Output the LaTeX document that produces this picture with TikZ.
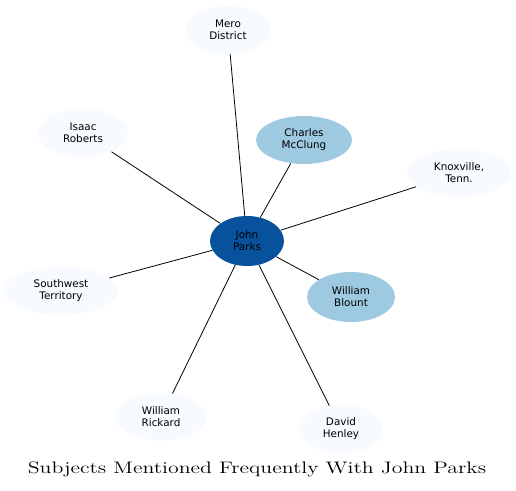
\documentclass[tikz,border=0pt]{standalone}
\usepackage{fontspec}
\newfontfamily\nodefont{DejaVu Sans}
\usetikzlibrary{shapes.geometric}
\definecolor{pale}{HTML}{F7FBFF}
\definecolor{mid}{HTML}{9ECAE1}
\definecolor{dark}{HTML}{08519C}
\begin{document}
\begin{tikzpicture}[x=0.75pt,y=-0.75pt,
  ent/.style={ellipse,inner sep=0pt,fill=pale,font=\nodefont\fontsize{7.8}{9}\selectfont,align=center},
  hot/.style={ent,fill=mid},
  center/.style={ent,fill=dark},
  link/.style={draw=black,line width=0.6pt}]
\useasboundingbox (0,0) rectangle (516,491);
\node[ent,minimum width=86*0.75pt,minimum height=48*0.75pt] (mero) at (228,30) {Mero\\District};
\node[ent,minimum width=90*0.75pt,minimum height=48*0.75pt] (isaac) at (83,133) {Isaac\\Roberts};
\node[hot,minimum width=96*0.75pt,minimum height=48*0.75pt] (charles) at (304,140) {Charles\\McClung};
\node[ent,minimum width=104*0.75pt,minimum height=48*0.75pt] (knox) at (459,173) {Knoxville,\\Tenn.};
\node[center,minimum width=74*0.75pt,minimum height=50*0.75pt] (john) at (247,241) {John\\Parks};
\node[ent,minimum width=114*0.75pt,minimum height=48*0.75pt] (sw) at (61,291) {Southwest\\Territory};
\node[hot,minimum width=88*0.75pt,minimum height=50*0.75pt] (blount) at (351,297) {William\\Blount};
\node[ent,minimum width=90*0.75pt,minimum height=48*0.75pt] (rickard) at (161,417) {William\\Rickard};
\node[ent,minimum width=84*0.75pt,minimum height=48*0.75pt] (henley) at (341,429) {David\\Henley};
\foreach \t in {mero,isaac,charles,knox,sw,blount,rickard,henley}
  \draw[link] (john) -- (\t);
\node (title) at (257,469) {\scalebox{1.31}[1]{\fontsize{12.5}{14}\selectfont Subjects Mentioned Frequently With John Parks}};
\end{tikzpicture}
\end{document}
